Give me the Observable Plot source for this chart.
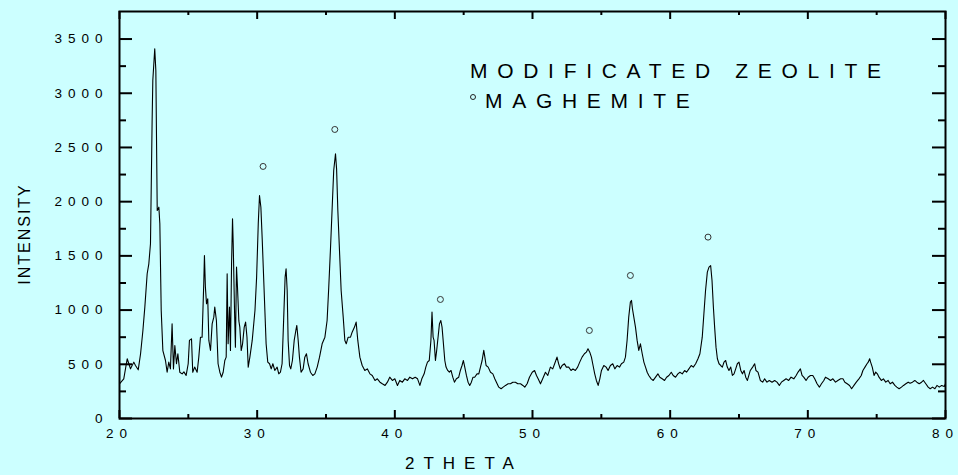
<!DOCTYPE html>
<html><head><meta charset="utf-8">
<script src="https://cdn.jsdelivr.net/npm/d3@7"></script>
<script src="https://cdn.jsdelivr.net/npm/@observablehq/plot@0.6"></script>
<style>
html,body{margin:0;padding:0;background:#ccffff;}
#wrap{position:relative;width:958px;height:475px;font-family:"Liberation Sans",Arial,sans-serif;color:#000;}
#wrap svg text{letter-spacing:6px;}
.ov{position:absolute;white-space:nowrap;line-height:1;}
.legend{left:470px;font-size:21px;letter-spacing:9.7px;}
.sym{position:absolute;width:4px;height:4px;border:1px solid #222;border-radius:50%;}
</style></head><body><div id="wrap"></div>
<script>
const theta = [
20.00,20.31,20.56,20.68,20.80,21.04,21.16,21.36,21.53,21.70,21.84,22.01,22.13,22.25,22.37,22.42,22.56,22.64,22.74,22.86,
22.93,23.03,23.15,23.34,23.46,23.58,23.70,23.82,23.92,24.02,24.14,24.24,24.38,24.55,24.68,24.84,24.99,25.08,25.23,25.32,
25.46,25.64,25.76,25.88,26.00,26.12,26.17,26.24,26.32,26.41,26.49,26.61,26.73,26.85,26.92,27.04,27.16,27.29,27.41,27.53,
27.65,27.75,27.82,27.89,27.99,28.06,28.14,28.21,28.26,28.35,28.42,28.50,28.57,28.67,28.74,28.84,28.94,29.06,29.16,29.26,
29.35,29.47,29.64,29.84,29.96,30.08,30.17,30.27,30.37,30.46,30.56,30.65,30.77,30.90,31.02,31.14,31.28,31.45,31.57,31.69,
31.81,31.93,32.03,32.10,32.18,32.25,32.35,32.44,32.56,32.69,32.81,32.88,32.98,33.07,33.19,33.34,33.46,33.58,33.70,33.87,
34.04,34.19,34.36,34.53,34.72,34.92,
35.08,35.20,35.32,35.44,35.56,35.69,35.77,35.86,35.98,36.10,36.25,36.37,36.47,36.61,36.78,36.90,37.07,37.19,37.31,37.46,
37.63,37.82,38.00,38.19,38.36,38.56,38.73,38.92,39.09,39.29,39.46,39.63,39.82,40.00,40.19,40.36,40.55,40.72,40.92,41.09,
41.28,41.48,41.65,41.82,41.96,42.13,42.25,42.37,42.50,42.62,42.70,42.78,42.85,42.95,43.04,43.14,43.24,43.34,43.43,43.53,
43.63,43.72,43.84,43.96,44.08,44.21,44.33,44.47,44.64,44.76,44.88,44.98,45.08,45.20,45.32,45.44,45.56,45.68,45.80,45.97,
46.10,46.22,46.34,46.46,46.54,46.63,46.78,46.95,47.12,47.26,47.43,47.55,47.72,47.87,48.04,48.23,48.40,48.57,48.76,48.93,
49.13,49.30,49.44,49.61,49.78,49.98,50.15,50.29,
50.41,50.58,50.74,50.94,51.11,51.30,51.47,51.61,51.78,51.90,52.02,52.15,52.32,52.46,52.63,52.80,52.94,53.11,53.28,53.43,
53.60,53.77,53.91,54.03,54.16,54.28,54.40,54.52,54.64,54.77,54.89,55.01,55.18,55.35,55.49,55.66,55.83,55.98,56.15,56.32,
56.46,56.63,56.75,56.87,56.99,57.11,57.19,57.26,57.36,57.48,57.60,57.72,57.84,57.97,58.09,58.21,58.33,58.45,58.62,58.77,
58.94,59.11,59.25,59.42,59.59,59.74,59.91,60.08,60.22,60.39,60.56,60.71,60.88,61.05,61.19,61.36,61.53,61.68,61.85,62.02,
62.16,62.33,62.45,62.57,62.70,62.82,62.94,63.04,63.14,63.23,63.33,63.43,63.55,63.67,63.79,63.91,64.03,64.15,64.27,64.40,
64.52,64.64,64.76,64.88,65.00,65.13,65.25,65.37,65.49,65.61,
65.82,65.99,66.14,66.23,66.38,66.55,66.72,66.86,67.03,67.20,67.40,67.59,67.76,67.93,68.08,68.25,68.42,68.61,68.78,68.98,
69.15,69.29,69.46,69.58,69.70,69.87,70.02,70.19,70.36,70.50,70.67,70.84,70.99,71.16,71.28,71.48,71.65,71.82,72.01,72.18,
72.38,72.55,72.69,72.86,73.03,73.18,73.35,73.52,73.71,73.88,74.00,74.15,74.30,74.39,74.49,74.56,74.68,74.81,74.93,75.05,
75.17,75.34,75.49,75.66,75.83,75.98,76.15,76.32,76.46,76.63,76.80,76.95,77.12,77.29,77.43,77.60,77.77,77.92,78.09,78.26,
78.40,78.57,78.74,78.89,79.06,79.23,79.38,79.55,79.72,79.91,80.00];
const intensity = [
320,366,551,505,458,520,489,449,597,812,1027,1335,1427,1612,2749,3118,3410,3210,1919,1949,
1799,996,627,535,427,520,458,873,458,673,505,597,427,412,430,397,505,720,735,427,
474,427,566,750,750,1242,1504,1212,1058,1104,720,627,873,935,1027,904,505,427,381,427,
535,566,1335,689,1027,627,1427,1842,1612,1027,658,1396,1212,900,843,627,689,843,889,750,
474,566,720,996,1304,1799,2057,1949,1643,1335,996,689,520,505,458,505,443,474,412,427,
505,935,1304,1381,1181,720,489,458,535,720,812,858,720,566,427,458,566,597,505,427,
397,412,474,566,689,750,
904,1211,1550,1919,2288,2442,2300,1919,1550,1181,935,720,689,750,750,796,843,889,720,566,
489,443,458,412,397,351,366,335,320,305,335,381,351,366,305,351,335,366,351,381,
366,381,366,305,366,412,474,520,535,720,981,750,720,535,628,750,873,904,843,689,
535,474,443,427,443,381,335,366,381,443,489,535,474,397,335,305,335,381,381,412,
412,474,535,628,566,489,474,427,412,366,320,289,274,289,305,320,320,335,335,320,
320,305,289,320,381,427,443,397,
366,320,366,427,397,474,458,505,566,505,458,489,505,474,474,443,458,443,474,520,
566,597,612,643,612,566,489,412,351,305,366,443,489,474,443,489,505,458,489,474,
505,520,566,720,935,1073,1089,1012,935,843,720,628,689,597,520,474,427,397,366,351,
381,412,381,366,351,381,397,427,397,381,412,427,412,443,427,458,489,474,505,551,
597,750,966,1181,1350,1396,1411,1273,1027,843,658,551,505,489,474,520,535,474,443,474,
397,412,458,505,520,443,412,443,381,351,
443,474,505,443,428,351,335,366,335,351,335,351,335,305,335,351,366,351,381,366,
397,428,458,397,381,351,381,397,397,366,320,289,320,351,381,366,351,366,335,351,
366,366,335,320,305,274,305,335,366,397,443,474,505,520,551,520,474,397,428,412,
381,351,366,335,351,320,335,305,289,274,289,305,320,335,325,335,351,335,320,335,
351,320,289,274,289,274,305,289,305,295,320];
// maghemite reflections marked with open circles
const maghemiteTheta = [30.43, 35.64, 43.31, 54.13, 57.11, 62.75];
const maghemiteIntensity = [2325, 2666, 1098, 812, 1319, 1673];
// axis ticks
const xTicks = [20, 30, 40, 50, 60, 70, 80];
const xMinor = [25, 35, 45, 55, 65, 75];
const yTicks = [0, 500, 1000, 1500, 2000, 2500, 3000, 3500];
const yMinor = [250, 750, 1250, 1750, 2250, 2750, 3250];

const pattern = theta.map((t, i) => ({t, v: intensity[i]}));
const peaks = maghemiteTheta.map((t, i) => ({t, v: maghemiteIntensity[i]}));
const fmt = d => String(d);

const W = 958, H = 475, mL = 119, mR = 13, mT = 11, mB = 57;
const fw = W - mL - mR, fh = H - mT - mB;

const chart = Plot.plot({
  width: W, height: H,
  marginLeft: mL, marginRight: mR, marginTop: mT, marginBottom: mB,
  style: {background: "#ccffff", fontFamily: "'Liberation Sans', Arial, sans-serif", fontSize: "13.5px", color: "#000", overflow: "visible"},
  x: {domain: [20, 80], label: null},
  y: {domain: [0, 3754], label: null},
  marks: [
    Plot.line(pattern, {x: "t", y: "v", stroke: "#000", strokeWidth: 1.1}),
    Plot.dot(peaks, {x: "t", y: "v", r: 3, stroke: "#333", fill: "none", strokeWidth: 1}),
    // tick labels
    Plot.axisY(yTicks, {anchor: "left", tickSize: 0, tickPadding: 11, tickFormat: fmt, label: null}),
    Plot.axisX(xTicks, {anchor: "bottom", tickSize: 0, tickPadding: 10, tickFormat: fmt, label: null}),
    // inward ticks on all four sides
    Plot.ruleY(yTicks, {insetRight: fw - 13, stroke: "#000", strokeWidth: 2}),
    Plot.ruleY(yMinor, {insetRight: fw - 7, stroke: "#000", strokeWidth: 2}),
    Plot.ruleY(yTicks, {insetLeft: fw - 13, stroke: "#000", strokeWidth: 2}),
    Plot.ruleY(yMinor, {insetLeft: fw - 7, stroke: "#000", strokeWidth: 2}),
    Plot.ruleX(xTicks, {insetTop: fh - 8, stroke: "#000", strokeWidth: 2}),
    Plot.ruleX(xMinor, {insetTop: fh - 4, stroke: "#000", strokeWidth: 2}),
    Plot.ruleX(xTicks, {insetBottom: fh - 8, stroke: "#000", strokeWidth: 2}),
    Plot.ruleX(xMinor, {insetBottom: fh - 4, stroke: "#000", strokeWidth: 2}),
    Plot.frame({stroke: "#000", strokeWidth: 2})
  ]
});
const wrap = document.getElementById("wrap");
wrap.appendChild(chart);

function overlay(text, cls, css) {
  const d = document.createElement("div");
  d.className = "ov " + cls;
  d.textContent = text;
  Object.assign(d.style, css);
  wrap.appendChild(d);
  return d;
}
overlay("MODIFICATED ZEOLITE", "legend", {top: "60px"});
overlay("MAGHEMITE", "legend", {top: "90px", left: "485px"});
const sym = document.createElement("div");
sym.className = "sym";
Object.assign(sym.style, {left: "470px", top: "94px"});
wrap.appendChild(sym);
overlay("2THETA", "", {left: "405px", top: "455px", fontSize: "17px", letterSpacing: "9px"});
overlay("INTENSITY", "", {fontSize: "16px", letterSpacing: "2px", left: "25px", top: "234px", transform: "translate(-50%,-50%) rotate(-90deg)", transformOrigin: "center"});
</script></body></html>
